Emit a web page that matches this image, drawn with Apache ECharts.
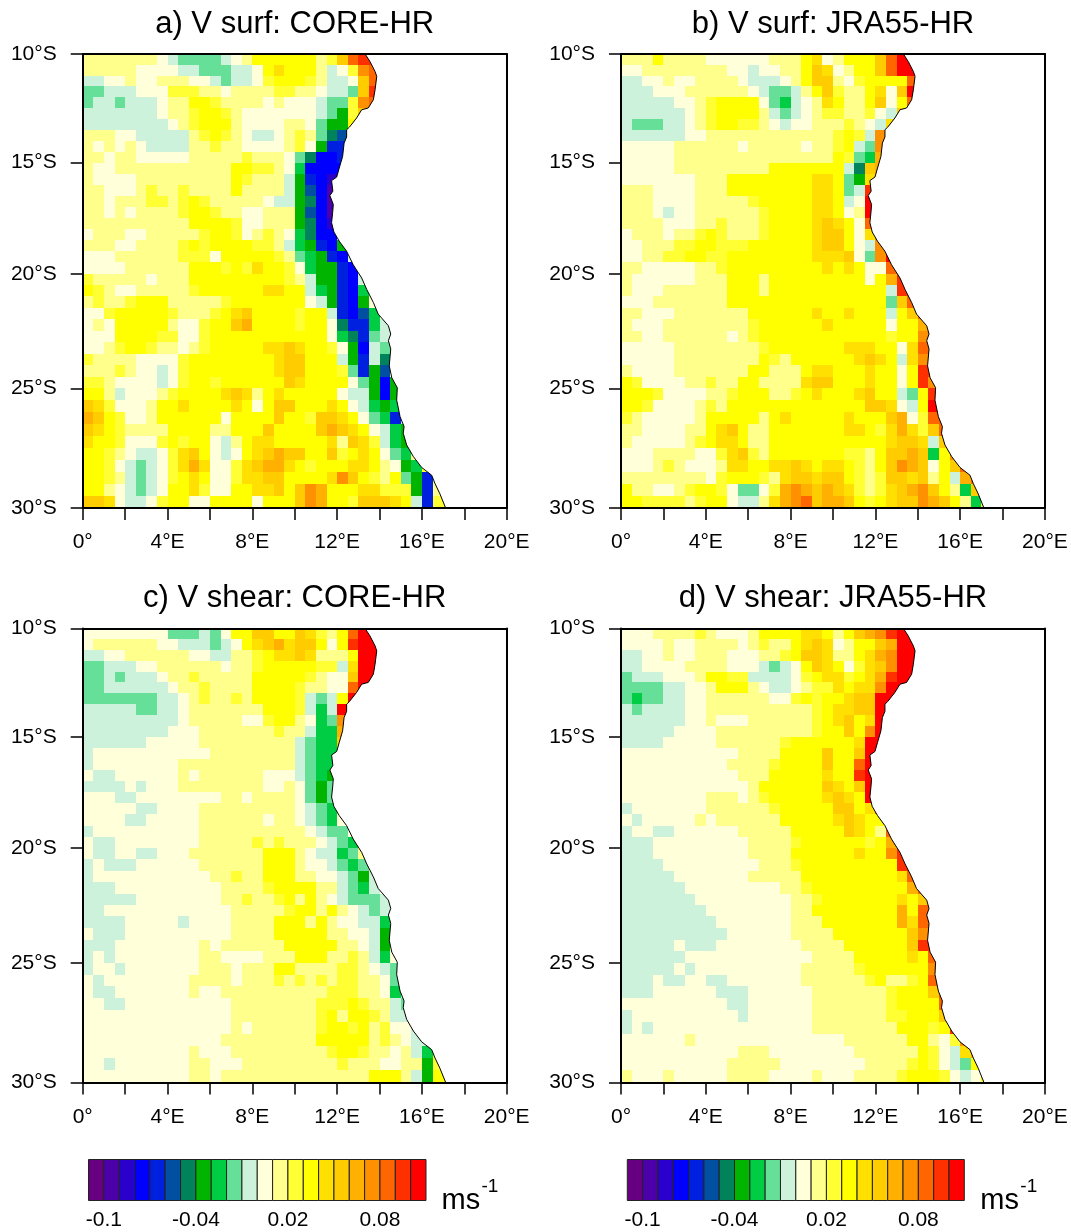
<!DOCTYPE html>
<html><head><meta charset="utf-8"><style>html,body{margin:0;padding:0;background:#fff}#c{width:1071px;height:1232px}</style>
<script src="https://cdn.jsdelivr.net/npm/echarts@6/dist/echarts.min.js"></script></head><body><div id="c"></div>
<script>
// Colour classes a..v, 0.01 m/s wide, from -0.11 to 0.11
const levelCodes = "abcdefghijklmnopqrstuv";
const levelColors = ["#660080","#4b00aa","#2a00cc","#0000ff","#0020e0","#004fa0","#00825a","#00b400","#00cc44","#66e099","#ccf2dc","#ffffd9","#ffff8c","#ffff33","#ffff00","#ffe000","#ffcc00","#ffb000","#ff9000","#ff6600","#ff3000","#ff0000"];
const levelStart = -0.11, levelStep = 0.01;
const colorbarLabels = ["-0.1","-0.04","0.02","0.08"];
const lonLabels = ["0°","4°E","8°E","12°E","16°E","20°E"];
const latLabels = ["10°S","15°S","20°S","25°S","30°S"];
const titles = ["a) V surf: CORE-HR","b) V surf: JRA55-HR","c) V shear: CORE-HR","d) V shear: JRA55-HR"];
// Coast as [lon, lat]
const coast = [[13.32,-10],[13.55,-10.35],[13.79,-10.81],[13.87,-11.04],[13.79,-11.66],[13.71,-12.12],[13.47,-12.5],[13.16,-12.58],[12.92,-12.96],[12.58,-13.38],[12.45,-13.5],[12.45,-13.83],[12.33,-14.11],[12.26,-14.72],[12.1,-15.25],[11.98,-15.66],[11.74,-15.82],[11.8,-16.3],[11.66,-16.5],[11.82,-16.9],[11.79,-17.27],[11.74,-17.72],[11.85,-18.14],[12.1,-18.55],[12.45,-19],[12.76,-19.6],[13.16,-20.19],[13.4,-20.7],[13.71,-21.27],[13.94,-21.78],[14.42,-22.29],[14.53,-22.65],[14.42,-22.94],[14.53,-23.3],[14.46,-24.03],[14.58,-24.54],[14.84,-24.97],[14.81,-25.5],[14.97,-26.2],[15.16,-26.62],[15.12,-26.9],[15.28,-27.39],[15.6,-27.88],[15.99,-28.33],[16.46,-28.65],[16.62,-29],[16.85,-29.42],[17.12,-30]];
const landCorners = [[20,-30],[20,-10]];
// Rows run north to south, 0.5 deg of latitude each; columns 0.5 deg of longitude from 0E
const panelA = [
"mmmmmmmlkjjjjklmoooooomnqtuu",
"mmmmmllllkkjjjkklopooomklnstt",
"kkllmllmmmllkjkklnooonmkklqtt",
"jjkkklllnnnmmlmmmmnnmmlkkjquu",
"jkkjkkklmmoonmmmmlmlllkjjnstt",
"kkkkkkklmmnoonmlllllllkjhnqq",
"kkkkkkkklmnooomllllmmljhhop",
"mmmllkkkkkmnonmlkklmnmjgfoo",
"mlmlmlkkkkmmnmmllllmnlheemm",
"mmlmmlllllmmmmmnmmmljgddekk",
"mllmmmmmmmmmmmoonnmliddddk",
"mllllmmmmmmmmmonmmmkhedcii",
"mmlllmnmmnmmmmommmmkhfdboo",
"mmlmmmnnmnonmmmmmlkkhgdboo",
"mmlmlmmmmnoonmmllmmmhfdboo",
"mmmmmmmmmmoooonllmmmhgdcnn",
"lmmmllmmmmmnoonlmnmligddll",
"mmmllmmmmnonoooonnmkihedhnn",
"lllmmmmmmnnnlooooonmjihedkn",
"llllmmmmmmooononpoonlihhedm",
"nmmmmmlmmmooooooooonmkhhedkk",
"onmllmmmmmnooooooppookihedimm",
"mnmmnooommmmmnooooooolkhedhll",
"llnooooonmmmnopqoooonookedfill",
"lmlooooomllnooqroooonoolgeeikk",
"llloooonnllnoooooooooooligejkmm",
"llmnoonmmlmnooooopp" + "qpoonlhdkjmm",
"nmmmmllllnoooooooopqqoookhekgkk",
"mmmnmllklnoooooooopqqooonjehfll",
"nnmllllklnoonooooooqpoooolj" + "hdhmm",
"oomklllmnoooopqpmopoooool" + "kkhdhll",
"qpnlllmoopoooopoloqqooopolkihimm",
"rqonllmoooooolooooqoonqqpoljiekk",
"qponmmmmoooommoooqooooqrqpolkihmm",
"poonlllnonoolkmoppooooopmqpnkihnn",
"oonmlkklnpqolklopqrqqooqnopoljimm",
"oonlkjklnprpllnpqrrponoooppomlhinn",
"oonmkjklnopollnppqqoooopsqonmojhenn",
"oomlkjkloopnlloopp" + "qoqsrooopp" + "nnnhemm",
"qqplkklnoollooooloooqsroonqqqpokenn"
];
const panelB = [
"mmmommmmllllllmmmoplmoooqtvv",
"llmmmmmmmmllkllmmoqplmooqtvv",
"kkllmllmmmmlkkklmoqqmlnooootvv",
"kkklllmmmmmmlkjjkmoqnmmoplqvv",
"kkkkkllmnooooljiklmpommoqlott",
"kkkkkklmnoooomkjklmnnmmnlkqq",
"kjjjkklmnoonnmlkllmmmnmlkpp",
"kkkkkkllmmmmmmmmmmmmnonkss",
"lllllmmmmmmlmmmmmlmmnokjss",
"lllllmmmmmmmmmmmmmmmonjirr",
"lllllmmmmmmmmmoooooookgqr",
"lllllllmmmooooooooppojhpp",
"mmmllllmmmooooooooppojkuu",
"mmmllllmmmmmnooooopp" + "oklvv",
"mmmlkllmmmmmmnooooppolmvv",
"mmmmlllmmnmmmnoooopqpoltt",
"lmmmlmmnonmmmnoooopqqolps",
"llmmmnnoonnnoooooopqqolkss",
"llmmnnoonnoooooooopppqljsv",
"mmlllllmmnooooooooopopolltt",
"mllllllmmmooomooooooooolo" + "ruu",
"mlllmmmmmmooom" + "oooooooooo" + "okuu",
"lllmmmmmmm" + "ooooooooooooooo" + "jqtt",
"mmlllmmmmmmmoooooopoopoookoqtt",
"mlllmmmmmmmmnoooooopoooooloorr",
"mmllmmmmmmlmnoooooooooooonooss",
"lllllmmmmmmmmnooooooopppoolptt",
"lllllmmmmmmmmonmoooooopqpokpss",
"mllllmmmmmmmoommmoppooopoolouu",
"onllllmmnmmoommmmpqqooopoolouss",
"ooonllllmmnooommnopooopqookjouu",
"oonllllmnmoooooooooooooqqplkovv",
"nmlllllmooooomopooooopoooqrlntt",
"mmllllmmopqommooooooo" + "ppo" + "npr" + "pn" + "qtt",
"mlllllmnoppommooooooooooopqqpkqtt",
"lllmmmmllnpqnmooooooonnmoqqrqioss",
"lllmnmlllmppooppqpopponmoqsrqloqtt",
"mmmmmmmmlnooonmpqqpqqonmnqqpqmokrtt",
"ommllmnoonljjlnrsrqrqpnmnpqrsqomiqq",
"oonnnnmnoolkkmprstqrrqonopqqsrqominn"
];
const panelC = [
"lllllllljjjkjlooqqooqpnmotvv",
"lmmmmmmllkkkjklopqrpqqolouvv",
"kkllmmmmmmllkkmmnoppqpmmmovvv",
"jjkkkllmmmmmmlmmnooooonnkpvvv",
"jjkjkkklmmnmmmmmooooonmllqvvv",
"jjkkkkkklmmnmmmmoooonmmlltvv",
"jjjjjjjkklmnmmnmoooonkjkovv",
"kkkkkjjkklmmmmmmmooonkikvv",
"kkkkkkkkklmmmmmllnoomlijss",
"kkkkkkkklllmmmmmmmnmmkiirr",
"kkkkkklllllmmmmmmmmmkjiiqq",
"klllllllllllmmmmmmmmkjiipp",
"kllllllllmmmmmmmmmmmkjiipp",
"lkkllllllmlmmmmmmlllkjihoo",
"kkkklklllmmmmmmmmllmljhjoo",
"lllkkllllllllmmlmmmmljhjoo",
"lllllkkllllmmmmmmmmmlkjioo",
"llllkklllllmmmmmmlmmlkjilnn",
"kllllllllllmmmmmmmmmmlkjjlnn",
"lkkllllllllmmmmmnmnmmmlkjinn",
"lkkllkklllmmmmmmmooomlkkijmm",
"klkkkllllllmmmmmmooomllkjijmm",
"klllllllllllmmnmmooommllkjhkm",
"kkkllllllllllmmmmnoooommkjikll",
"kkkkkllllllllmmnmmnomomlkjjjkl",
"kkllllllllllllmmmmmnoomomlkjkkl",
"kkkklllllkllllmmmmooomomllkkill",
"lkkkllllllllllmmmmooooommllkhll",
"kkkllllllllmlmmmmmmooooommlkhll",
"klkllllllllmmllllmmmooommnmkill",
"kllklllllllmmmlmmmoommmmnnmlkjll",
"lkllllllllmmmmlmmmnmnmnmnnmmljkl",
"lkklllllllmllmmmmmmmmmmnnnmmlikl",
"llkkllllllllllmmmmmmmmnnnonmmkjmm",
"llllllllllllllmmmmmmmmnomoonmkkmm",
"llllllllllllllmlmmmmmmnoonomnllknn",
"lllllllllllllmmmmmmmmmooooomnmlkkn",
"llllllllllmlllmmmmmmmmmnoonmmlmkinn",
"llklllllllmmlllmmmmmmmmmnmmmllmmhnn",
"llllllllllmmlmmmmmmmmmmmmmmooomkhoo"
];
const panelD = [
"lllmmmmnmlllmoooopp" + "omoqrsuvv",
"llllmllmmmmlmnmmopqplmooqrvv",
"kkllmllmmmlllmmnoqqpmmoprsvvv",
"kkllllmmmmlllkjkloqpolnpqsvvv",
"jkkklllmoonnkkkklnoppnopruvvv",
"jjjjkkllmooomlkklmnnpoppsvvv",
"jijjkkllmmmmmmllnonoopqqvvv",
"kjkkkkllmmmmmmmmmmnoppqqvvv",
"kkkkkkllmlllmmmmmmnopqopvvv",
"kkkkkllllmmmmmmmmmnooqosvv",
"kkkklllllmmmmmmnoooooopvvv",
"lllllllllllmmmmoooo" + "qooqvv",
"llllllllllmmmmnoooo" + "qootvv",
"lllllllllllmmmooooopoouvv",
"llllllllllllmooooooqpoqvv",
"llllllllmmmlmnooooopqpovv",
"klllllllmmmmmmnoooooqqoptt",
"lklllllmlmmmmmmooooopqpoott",
"kllkkllllllmmmmmoooooqpomtt",
"kkklllllllllmmmmnoooooonortt",
"kkklllllllllmmmmoooooopoosuu",
"kkkklllllllllmmmnooooooooouu",
"kkkkklllllllmmmmmoooooooooptt",
"kkkkkklllllllllmmnooooooooortt",
"kkkkkkklllllllllmmnooooooopoqq",
"kkkkkkkkllllllllmmoooooooo" + "rott",
"kkkkkkkkklllllllmmmooooooorptt",
"kkkkkkkkkkllllllmmmmoooooooqss",
"kkkkklkkkllllllllmmmmooooooquu",
"kkkkkkllllllllllllmmmmooooopott",
"kkkkklkllllllllllmmmmmnooooooss",
"kkklkkllkklllllllmmmmmmnommnott",
"kkkllllllkkkllllllmmmmmmmnoooqtt",
"llllllllllkkllllllmmmmmmmnoooott",
"kllllllllllkllllllmmmmmmmnnoooqss",
"klklllllllllllllllmmmmmmmmooonouu",
"llllllmllllllllllllllmmmmmmoomlnss",
"lllllllllllmmmllllllllmmmmmmonlkprr",
"llllllllllmmmmmllllllllmmmmnonlkjoo",
"mlllmlllllmmmmllllmlllmmmmnooonlkloo"
];
const panels = [panelA, panelB, panelC, panelD];

const merc = lat => { const r = lat*Math.PI/180; return Math.sign(r)*Math.log(Math.tan(Math.PI/4+Math.abs(r)/2)); };
const font = "'Liberation Sans', Arial, sans-serif";
const frames = [[82.7,54],[621,54],[82.7,628.4],[621,628.4]];
const W = 424, H = 454;
const latTicks = [-10,-15,-20,-25,-30].map(merc);
const grid=[], xAxis=[], yAxis=[], series=[], title=[];

const cellData = rows => {
  const d = [];
  rows.forEach((row,r) => {
    for (let c=0;c<row.length;c++) {
      const idx = levelCodes.indexOf(row[c]);
      d.push([c*0.5, merc(-10-r*0.5), merc(-10-(r+1)*0.5), levelStart+(idx+0.5)*levelStep]);
    }
  });
  return d;
};
const colorOf = v => levelColors[Math.max(0,Math.min(levelColors.length-1,Math.floor((v-levelStart)/levelStep)))];

panels.forEach((rows,i) => {
  const [L,T] = frames[i];
  grid.push({left:L,top:T,width:W,height:H,containLabel:false});
  const gi = grid.length-1;
  const a = xAxis.length, b = yAxis.length;
  xAxis.push({gridIndex:gi,type:'value',min:0,max:20,z:10,position:'bottom',splitLine:{show:false},
    axisLine:{show:true,onZero:false,lineStyle:{color:'#000',width:2}},
    axisTick:{show:true,length:12,lineStyle:{color:'#000',width:1.5},customValues:[0,2,4,6,8,10,12,14,16,18,20]},
    axisLabel:{show:true,margin:24,fontFamily:font,fontSize:21,color:'#000',customValues:[0,4,8,12,16,20],
      formatter:v=>lonLabels[Math.round(v/4)]}});
  xAxis.push({gridIndex:gi,type:'value',min:0,max:20,z:10,position:'top',splitLine:{show:false},
    axisLine:{show:true,onZero:false,lineStyle:{color:'#000',width:2}},axisTick:{show:false},axisLabel:{show:false}});
  yAxis.push({gridIndex:gi,type:'value',min:merc(-30),max:merc(-10),z:10,position:'left',splitLine:{show:false},
    axisLine:{show:true,onZero:false,lineStyle:{color:'#000',width:2}},
    axisTick:{show:true,length:12,lineStyle:{color:'#000',width:1.5},customValues:latTicks},
    axisLabel:{show:true,margin:26,fontFamily:font,fontSize:21,color:'#000',customValues:latTicks,
      formatter:v=>{let k=0,m=9;latTicks.forEach((t,j)=>{if(Math.abs(t-v)<m){m=Math.abs(t-v);k=j;}});return latLabels[k];}}});
  yAxis.push({gridIndex:gi,type:'value',min:merc(-30),max:merc(-10),z:10,position:'right',splitLine:{show:false},
    axisLine:{show:true,onZero:false,lineStyle:{color:'#000',width:2}},axisTick:{show:false},axisLabel:{show:false}});
  series.push({type:'custom',xAxisIndex:a,yAxisIndex:b,z:2,clip:true,silent:true,progressive:0,animation:false,
    data:cellData(rows),encode:{x:0,y:1},
    renderItem:(p,api)=>{
      const p1=api.coord([api.value(0),api.value(1)]), p2=api.coord([api.value(0)+0.5,api.value(2)]);
      const x=Math.round(p1[0]),y=Math.round(p1[1]);
      return {type:'rect',shape:{x,y,width:Math.round(p2[0])-x,height:Math.round(p2[1])-y},style:{fill:colorOf(api.value(3))}};
    }});
  const landPts = coast.concat(landCorners).map(q=>[q[0],merc(q[1])]);
  series.push({type:'custom',xAxisIndex:a,yAxisIndex:b,z:3,clip:true,silent:true,animation:false,
    data:[[0,merc(-20)]],encode:{x:0,y:1},
    renderItem:(p,api)=>({type:'polygon',shape:{points:landPts.map(q=>api.coord(q))},style:{fill:'#fff'}})});
  series.push({type:'line',xAxisIndex:a,yAxisIndex:b,z:4,clip:true,silent:true,animation:false,showSymbol:false,symbol:'none',
    lineStyle:{color:'#000',width:1},data:coast.map(q=>[q[0],merc(q[1])])});
  title.push({text:titles[i],left:L+W/2-5,top:T-50,textAlign:'center',textStyle:{fontFamily:font,fontSize:31,fontWeight:'normal',color:'#000'}});
});

// Colour bars
const barFrames = [[88.5,337.5],[627.3,337]];
const barTicks = [-0.1,-0.04,0.02,0.08];
barFrames.forEach(([L,w],i) => {
  grid.push({left:L,top:1159.5,width:w,height:41});
  const gi=grid.length-1, a=xAxis.length, b=yAxis.length;
  xAxis.push({gridIndex:gi,type:'value',min:levelStart,max:-levelStart,z:10,splitLine:{show:false},
    axisLine:{show:false},axisTick:{show:false},
    axisLabel:{show:true,margin:9,fontFamily:font,fontSize:21,color:'#000',customValues:barTicks,
      formatter:v=>{let k=0,m=9;barTicks.forEach((t,j)=>{if(Math.abs(t-v)<m){m=Math.abs(t-v);k=j;}});return colorbarLabels[k];}}});
  yAxis.push({gridIndex:gi,type:'value',min:0,max:1,show:false});
  series.push({type:'custom',xAxisIndex:a,yAxisIndex:b,clip:false,silent:true,animation:false,
    data:levelColors.map((c,j)=>[levelStart+j*levelStep,0]),encode:{x:0,y:1},
    renderItem:(p,api)=>{
      const p1=api.coord([api.value(0),1]),p2=api.coord([api.value(0)+levelStep,0]);
      return {type:'rect',shape:{x:p1[0],y:p1[1],width:p2[0]-p1[0],height:p2[1]-p1[1]},
        style:{fill:levelColors[p.dataIndex],stroke:'#222',lineWidth:1}};
    }});
  title.push({text:'ms',left:L+348,top:1181,textStyle:{fontFamily:font,fontSize:29,fontWeight:'normal',color:'#000'}});
  title.push({text:'-1',left:L+388,top:1172,textStyle:{fontFamily:font,fontSize:19,fontWeight:'normal',color:'#000'}});
});

const chart = echarts.init(document.getElementById('c'),null,{renderer:'canvas'});
chart.setOption({animation:false,backgroundColor:'#fff',title,grid,xAxis,yAxis,series});
</script></body></html>
